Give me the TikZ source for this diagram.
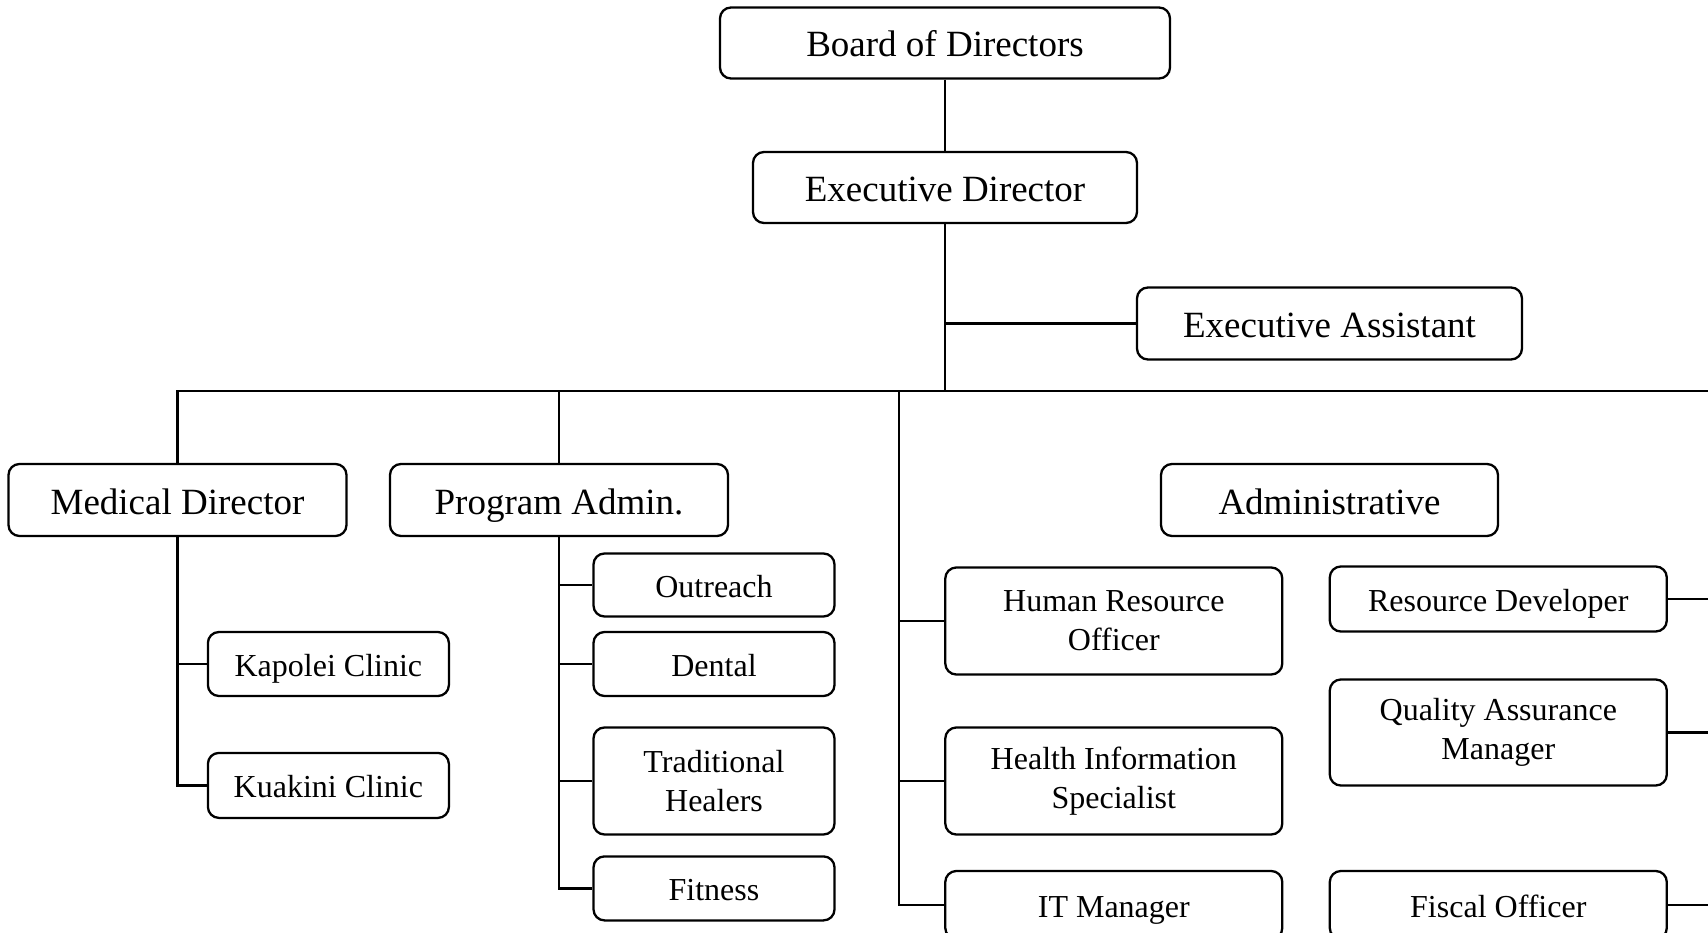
\documentclass[tikz,border=0pt]{standalone}
\usepackage{fontspec}
\setmainfont{Liberation Serif}
\begin{document}
\begin{tikzpicture}[x=1pt,y=-1pt,
  box/.style={draw, line width=2.3pt, rounded corners=11pt, align=center, inner sep=0pt},
  big/.style={box, font=\fontsize{37}{44}\selectfont, text height=30pt, text depth=2pt},
  small/.style={box, font=\fontsize{32}{39}\selectfont, text height=25pt, text depth=1pt},
  two/.style={box, font=\fontsize{32}{39}\selectfont, inner ysep=0pt},
  conn/.style={line width=2.3pt}]
\clip (0,0) rectangle (1708,933);
\fill[white] (0,0) rectangle (1708,933);
% top level
\node[big, minimum width=450pt, minimum height=71pt] (board) at (945,43) {Board of Directors};
\node[big, minimum width=384pt, minimum height=71pt] (exec) at (945,187.5) {Executive Director};
\node[big, minimum width=385pt, minimum height=72pt] (ea) at (1329.5,323.5) {Executive Assistant};
% second level
\node[big, minimum width=338pt, minimum height=72pt] (med) at (177.5,500) {Medical Director};
\node[big, minimum width=338pt, minimum height=72pt] (prog) at (559,500) {Program Admin.};
\node[big, minimum width=337pt, minimum height=72pt] (admin) at (1329.5,500) {Administrative};
% medical
\node[small, minimum width=241pt, minimum height=64pt] (kap) at (328.4,664) {Kapolei Clinic};
\node[small, minimum width=241pt, minimum height=65pt] (kua) at (328.4,785.4) {Kuakini Clinic};
% program
\node[small, minimum width=241pt, minimum height=63pt] (out) at (714,585) {Outreach};
\node[small, minimum width=241pt, minimum height=64pt] (den) at (714,664) {Dental};
\node[two, minimum width=241pt, minimum height=107pt] (trad) at (714,781) {Traditional\\Healers};
\node[small, minimum width=241pt, minimum height=64pt] (fit) at (714,888.4) {Fitness};
% administrative left column
\node[two, minimum width=337pt, minimum height=107pt] (hr) at (1113.8,621) {Human Resource\\Officer};
\node[two, minimum width=337pt, minimum height=107pt] (his) at (1113.8,781) {Health Information\\Specialist};
\node[small, minimum width=337pt, minimum height=68pt] (it) at (1113.8,905) {IT Manager};
% administrative right column
\node[small, minimum width=337pt, minimum height=65pt] (rd) at (1498.3,599) {Resource Developer};
\node[two, minimum width=337pt, minimum height=106pt] (qa) at (1498.3,732.5) {Quality Assurance\\Manager};
\node[small, minimum width=337pt, minimum height=68pt] (fo) at (1498.3,905) {Fiscal Officer};
% coordinates
\coordinate (bus) at (945,391);
\coordinate (busend) at (1712,391);
\coordinate (adtop) at (898.7,391);
\coordinate (redge) at (1712,0);
% connectors
\draw[conn] (board.south) -- (exec.north);
\draw[conn] (exec.south) -- (bus);
\draw[conn] (exec.south |- ea.west) -- (ea.west);
\draw[conn] (med.north) |- (busend);
\draw[conn] (prog.north) -- (prog.north |- bus);
\draw[conn] (med.south) |- (kap.west);
\draw[conn] (med.south) -- (med.south |- kua.west) -- (kua.west);
\draw[conn] (prog.south) -- (prog.south |- fit.west) -- (fit.west);
\draw[conn] (prog.south |- out.west) -- (out.west);
\draw[conn] (prog.south |- den.west) -- (den.west);
\draw[conn] (prog.south |- trad.west) -- (trad.west);
\draw[conn] (adtop) |- (it.west);
\draw[conn] (adtop |- hr.west) -- (hr.west);
\draw[conn] (adtop |- his.west) -- (his.west);
\draw[conn] (rd.east) -- (rd.east -| redge);
\draw[conn] (qa.east) -- (qa.east -| redge);
\draw[conn] (fo.east) -- (fo.east -| redge);
\end{tikzpicture}
\end{document}
